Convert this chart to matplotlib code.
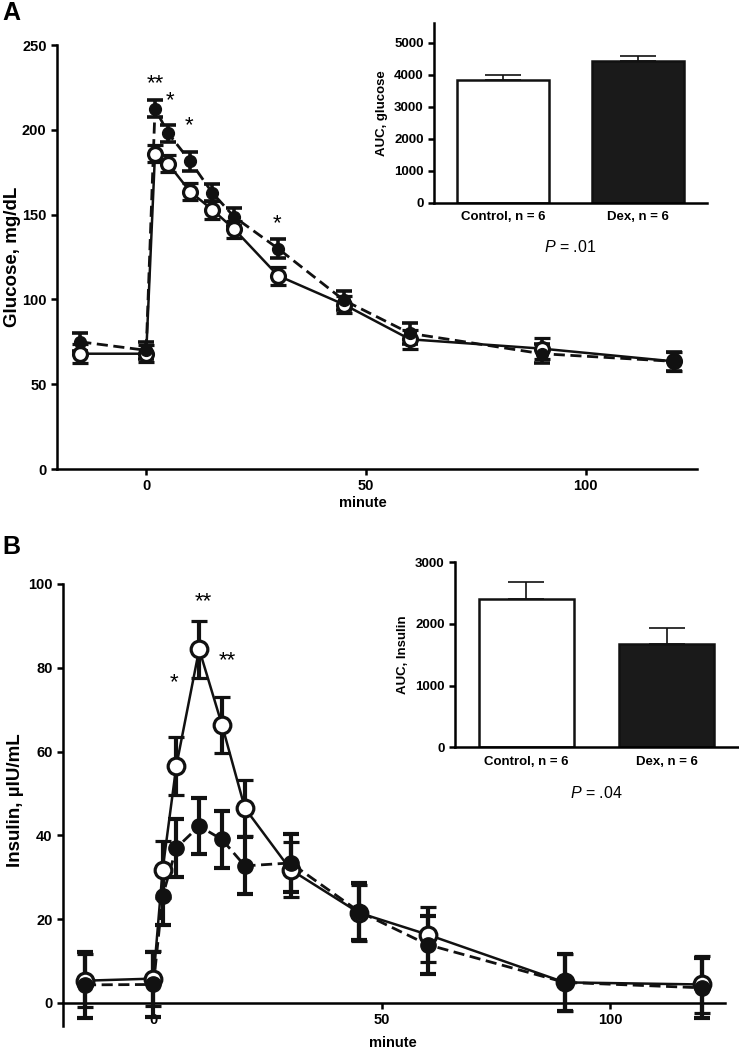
import matplotlib
matplotlib.use("Agg")
import matplotlib.pyplot as plt

plt.rcParams['font.family'] = ['Liberation Sans', 'DejaVu Sans']
plt.rcParams['mathtext.fontset'] = 'custom'
plt.rcParams['mathtext.it'] = 'Liberation Sans:italic'
plt.rcParams['mathtext.rm'] = 'Liberation Sans'

# ---- data ----
minutes = [-15, 0, 2, 5, 10, 15, 20, 30, 45, 60, 90, 120]

glu_ctrl = [68, 68, 186, 180, 163.5, 153, 141.5, 114, 97, 76.5, 71, 63.5]
glu_ctrl_err = [5.5, 5, 5, 5, 5, 5.3, 5, 5.2, 5, 5.5, 6, 5.5]
glu_dex = [75, 70, 212.5, 198, 181.5, 163, 148.7, 130, 99.5, 80, 68, 63.5]
glu_dex_err = [5.5, 5, 5, 5, 5.5, 5, 5.3, 5.5, 5.5, 6, 5.5, 5.5]

ins_ctrl = [5.3, 5.8, 31.8, 56.6, 84.4, 66.3, 46.5, 31.8, 21.5, 16.3, 4.9, 4.4]
ins_ctrl_err = [6.3, 6.5, 6.8, 6.9, 6.8, 6.7, 6.7, 6.5, 6.7, 6.6, 6.8, 6.7]
ins_dex = [4.3, 4.4, 25.5, 37.0, 42.2, 39.0, 32.7, 33.4, 21.8, 13.9, 4.9, 3.6]
ins_dex_err = [7.8, 7.8, 6.8, 7.0, 6.6, 6.8, 6.8, 7.0, 6.7, 6.9, 6.8, 7.2]

groups = ["Control, n = 6", "Dex, n = 6"]
auc_glu = [3830, 4440]
auc_glu_err = [150, 150]
auc_ins = [2405, 1675]
auc_ins_err = [270, 265]

p_glu = ".01"
p_ins = ".04"

# significance marks: (minute, value, label)
stars_glu = [(2.1, 224, "**"), (5.4, 214, "*"), (9.8, 199.5, "*"), (29.8, 141.5, "*")]
stars_ins = [(10.8, 94.5, "**"), (16.2, 80.3, "**"), (4.4, 75.2, "*")]

LW = 1.8
INK = '#111111'


def style_axes(ax):
    for s in ['top', 'right']:
        ax.spines[s].set_visible(False)
    for s in ['left', 'bottom']:
        ax.spines[s].set_linewidth(LW)
    ax.tick_params(direction='out', length=4, width=LW)
    for lab in ax.get_xticklabels() + ax.get_yticklabels():
        lab.set_fontweight('bold')


def time_course(ax, ctrl, ctrl_err, dex, dex_err, ms_open, ms_fill, cap, elw):
    # dex: dashed line + bars underneath, filled markers on top of everything
    ax.errorbar(minutes, dex, yerr=dex_err, color=INK, linestyle=(0, (4, 2)),
                linewidth=2.0, elinewidth=elw, capsize=cap, capthick=elw, zorder=2)
    ax.errorbar(minutes, ctrl, yerr=ctrl_err, color=INK, linestyle='-',
                linewidth=1.8, marker='o', markersize=ms_open, markerfacecolor='white',
                markeredgecolor=INK, markeredgewidth=2.3, elinewidth=elw, capsize=cap,
                capthick=elw, zorder=3)
    ax.plot(minutes, dex, linestyle='none', marker='o', markersize=ms_fill,
            markerfacecolor=INK, markeredgecolor=INK, zorder=4)


def auc_inset(ax, vals, errs, ylabel, ymax, yticks, p):
    ax.bar([0, 1], vals, width=0.68, color=['white', '#1a1a1a'], edgecolor=INK,
           linewidth=LW, zorder=2)
    for i in range(2):
        ax.errorbar([i], [vals[i]], yerr=[[0], [errs[i]]], color=INK, elinewidth=1.2,
                    capsize=13, capthick=1.2, zorder=1)
    ax.set_xlim(-0.51, 1.51)
    ax.set_ylim(0, ymax)
    ax.set_yticks(yticks)
    ax.set_xticks([0, 1])
    ax.set_xticklabels(groups)
    ax.set_ylabel(ylabel, fontsize=9.5, fontweight='bold')
    style_axes(ax)
    ax.tick_params(axis='x', length=0, pad=6, labelsize=9.5)
    ax.tick_params(axis='y', labelsize=9.5, length=4)
    ax.text(0.5, -0.245, r'$P$ = ' + p, transform=ax.transAxes, ha='center', va='center',
            fontsize=11.5)


fig = plt.figure(figsize=(7.39, 10.5), dpi=100)

# ---- panel A ----
axA = fig.add_axes([0.0771, 0.5533, 0.866, 0.4038])
time_course(axA, glu_ctrl, glu_ctrl_err, glu_dex, glu_dex_err, 10, 8.5, 6, 2.6)
axA.set_xlim(-20.3, 125.3)
axA.set_ylim(0, 250)
axA.set_yticks([0, 50, 100, 150, 200, 250])
axA.set_xticks([0, 50, 100])
axA.set_ylabel("Glucose, mg/dL", fontsize=13.5, fontweight='bold')
axA.yaxis.set_label_coords(-0.056, 0.5)
axA.set_xlabel("minute", fontsize=10.5, fontweight='bold')
axA.xaxis.set_label_coords(0.478, -0.064)
style_axes(axA)
axA.tick_params(labelsize=10.5)
for x, y, s in stars_glu:
    axA.text(x, y, s, ha='center', va='baseline', fontsize=16)

insA = fig.add_axes([0.5873, 0.8067, 0.3694, 0.1717])
auc_inset(insA, auc_glu, auc_glu_err, "AUC, glucose", 5620, [0, 1000, 2000, 3000, 4000, 5000], p_glu)

# ---- panel B ----
axB = fig.add_axes([0.0853, 0.0229, 0.8958, 0.421])
time_course(axB, ins_ctrl, ins_ctrl_err, ins_dex, ins_dex_err, 12, 11, 5.5, 3.0)
axB.set_xlim(-19.8, 125.1)
axB.set_ylim(-5.5, 100)
axB.spines['bottom'].set_position(('data', 0))
axB.set_yticks([0, 20, 40, 60, 80, 100])
axB.set_xticks([0, 50, 100])
axB.set_ylabel("Insulin, µIU/mL", fontsize=13.5, fontweight='bold')
axB.yaxis.set_label_coords(-0.059, 0.51)
axB.set_xlabel("minute", fontsize=10.5, fontweight='bold')
axB.xaxis.set_label_coords(0.498, -0.022)
style_axes(axB)
axB.tick_params(labelsize=10.5)
for x, y, s in stars_ins:
    axB.text(x, y, s, ha='center', va='baseline', fontsize=16)

insB = fig.add_axes([0.6157, 0.2883, 0.383, 0.1762])
auc_inset(insB, auc_ins, auc_ins_err, "AUC, Insulin", 3000, [0, 1000, 2000, 3000], p_ins)

fig.text(0.003, 0.988, "A", fontsize=18, fontweight='bold', va='center', ha='left')
fig.text(0.003, 0.479, "B", fontsize=18, fontweight='bold', va='center', ha='left')

fig.savefig("out.png", dpi=100)
